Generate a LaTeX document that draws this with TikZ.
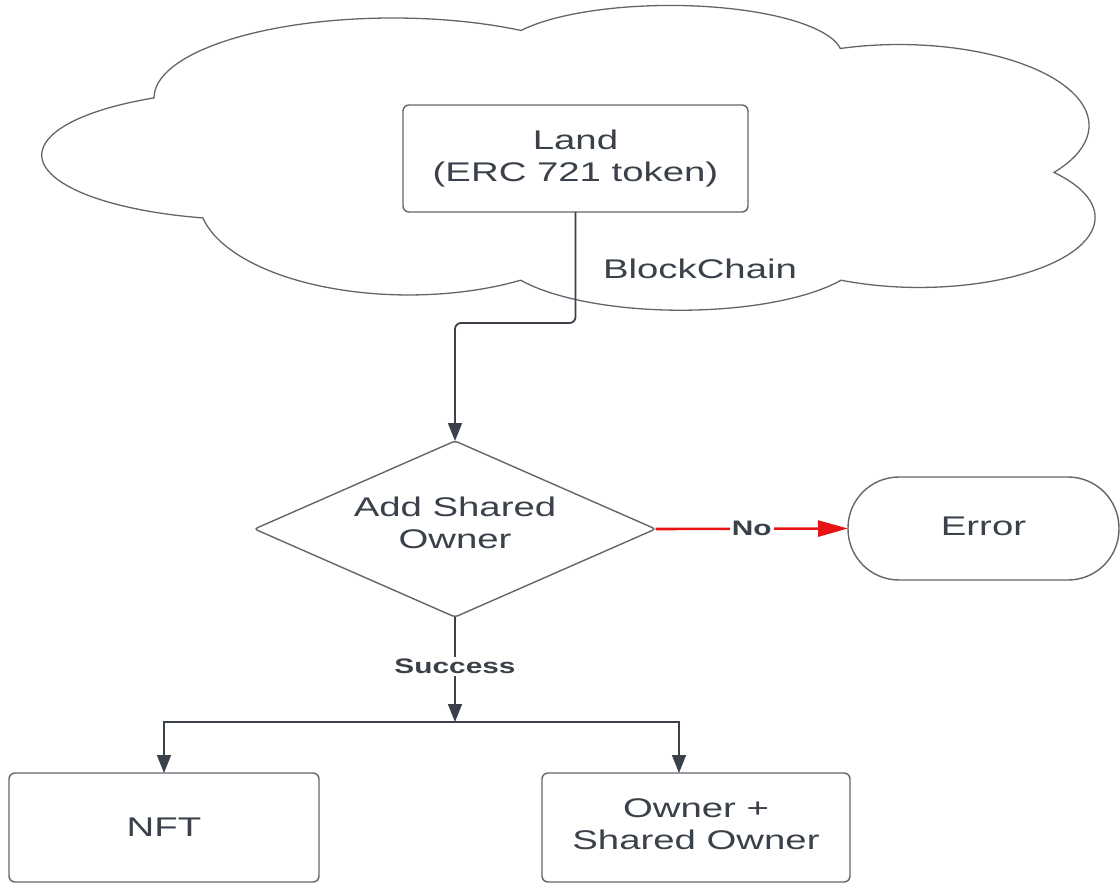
\documentclass[tikz,border=0pt]{standalone}
\usepackage{fontspec}
\setmainfont{Liberation Sans}[FakeStretch=1.42]
\usetikzlibrary{arrows.meta,shapes.geometric}
\definecolor{ink}{HTML}{3A414A}
\definecolor{rim}{HTML}{62666C}
\definecolor{alert}{HTML}{E81313}

\begin{document}
\begin{tikzpicture}[x=1pt,y=1pt,
  every node/.style={text=ink, font=\fontsize{27}{32}\selectfont, align=center, outer sep=0pt},
  box/.style={draw=rim, line width=1.4pt, rounded corners=6pt, fill=white, inner sep=0pt},
  conn/.style={draw=ink, line width=1.8pt, -{Triangle[length=18pt,width=14pt]}},
  lbl/.style={fill=white, font=\fontsize{21}{24}\selectfont\bfseries, inner sep=2pt},
  cloudline/.style={draw=rim, line width=1.3pt, fill=white}
]
\useasboundingbox (0,0) rectangle (1120,-883);

% blockchain cloud: seven elliptic lobes, clockwise from the upper left
\draw[cloudline] (154,-98)
  arc[start angle=180,   end angle=57.6,   x radius=239, y radius=80]
  arc[start angle=150,   end angle=8,      x radius=172, y radius=50]
  arc[start angle=108,   end angle=-35.4,  x radius=190, y radius=81]
  arc[start angle=40,    end angle=-116.3, x radius=176, y radius=70]
  arc[start angle=-30,   end angle=-150,   x radius=185, y radius=60]
  arc[start angle=-57.8, end angle=-168.6, x radius=210, y radius=96]
  arc[start angle=255.5, end angle=118.9,  x radius=215, y radius=65]
  -- cycle;
\node (chain) at (700,-269) {BlockChain};

% flow nodes
\node[box, minimum width=345pt, minimum height=107pt] (land) at (575.5,-158.5)
  {Land\\(ERC 721 token)\rule[-4pt]{0pt}{4pt}};
\node[draw=rim, line width=1.4pt, shape=diamond, aspect=2.28, minimum width=401pt,
  minimum height=176pt, inner sep=0pt, rounded corners=3pt, fill=white] (dia) at (455,-529)
  {Add Shared\\Owner\rule[-12pt]{0pt}{12pt}};
\node[box, rounded corners=51pt, minimum width=271pt, minimum height=103pt] (err) at (983.5,-528.5)
  {Error\rule[-5pt]{0pt}{5pt}};
\node[box, minimum width=310pt, minimum height=109pt] (nft) at (164,-827.5) {NFT};
\node[box, minimum width=308pt, minimum height=109pt] (own) at (696,-827.5)
  {Owner +\\Shared Owner\rule[-6pt]{0pt}{6pt}};

% connectors
\draw[conn, rounded corners=6pt] (land.south) -- ++(0,-111) -| (dia.north);
\draw[conn, draw=alert, line width=2.6pt, -{Triangle[length=30pt,width=16pt]}] (dia.east) -- node[lbl]{No} (err.west);
\coordinate (split) at (455,-722);
\draw[conn] (dia.south) -- node[lbl, pos=0.47]{Success} (split);
\draw[conn] (split) -| (nft.north);
\draw[conn] (split) -| ([xshift=-17pt]own.north);
\end{tikzpicture}
\end{document}
